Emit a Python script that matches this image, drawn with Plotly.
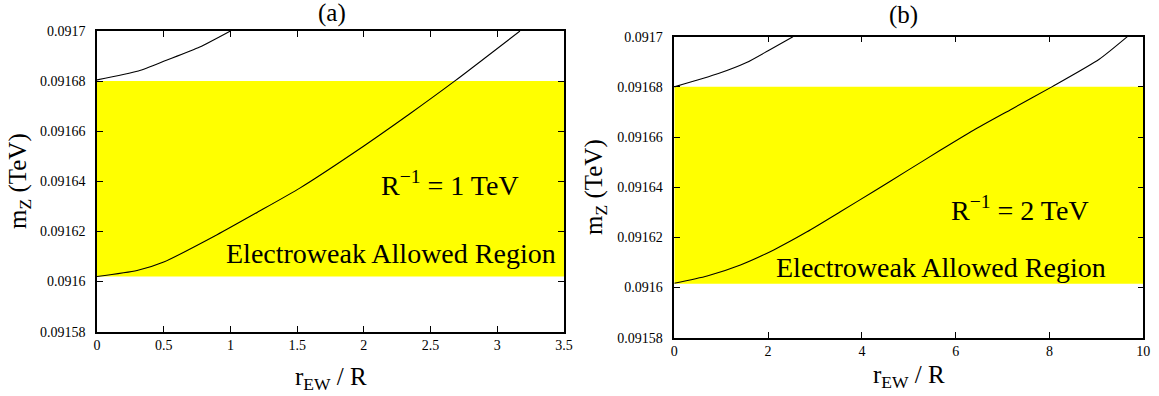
import plotly.graph_objects as go

# ---------------- data ----------------
# Panel (a): R^-1 = 1 TeV
a_lower_x = [0, 0.3, 0.5, 0.9, 1.2, 1.52, 1.9, 2.35, 2.68, 3.17]
a_lower_y = [0.091602, 0.0916044, 0.0916078, 0.0916187, 0.0916276, 0.0916373,
             0.0916505, 0.0916672, 0.09168, 0.0917]
a_upper_x = [0, 0.31, 0.52, 0.77, 1.0]
a_upper_y = [0.0916805, 0.091684, 0.0916883, 0.0916936, 0.0917]
a_band = [0.091602, 0.09168]
a_xrange = [0, 3.5]

# Panel (b): R^-1 = 2 TeV
b_lower_x = [0, 0.7, 1.41, 2.12, 2.83, 3.54, 4.25, 4.96, 5.67, 6.38, 7.2, 8.05, 9.06, 9.66]
b_lower_y = [0.0916017, 0.0916046, 0.091609, 0.091615, 0.0916222, 0.0916302, 0.0916383,
             0.0916465, 0.0916547, 0.0916627, 0.0916712, 0.09168, 0.091691, 0.0917]
b_upper_x = [0, 0.94, 1.54, 2.0, 2.53]
b_upper_y = [0.09168, 0.0916853, 0.0916897, 0.0916944, 0.0917]
b_band = [0.0916015, 0.09168]
b_xrange = [0, 10]

y_range = [0.09158, 0.0917]
y_tickvals = [0.09158, 0.0916, 0.09162, 0.09164, 0.09166, 0.09168, 0.0917]
y_ticktext = ["0.09158", "0.0916", "0.09162", "0.09164", "0.09166", "0.09168", "0.0917"]
a_xtickvals = [0, 0.5, 1, 1.5, 2, 2.5, 3, 3.5]
a_xticktext = ["0", "0.5", "1", "1.5", "2", "2.5", "3", "3.5"]
b_xtickvals = [0, 2, 4, 6, 8, 10]
b_xticktext = ["0", "2", "4", "6", "8", "10"]

titles = ["(a)", "(b)"]
labels_R = ["R<sup>\u22121</sup> = 1 TeV", "R<sup>\u22121</sup> = 2 TeV"]
label_region = "Electroweak Allowed Region"
x_title = "r<sub>EW</sub> / R"
y_title = "m<sub>Z</sub> (TeV)"

# ---------------- figure ----------------
W, H = 1159, 396
FONT = "Liberation Serif, Times New Roman, Times, serif"
YELLOW = "#FFFF00"

fig = go.Figure()


def add_panel(xa, ya, band, xr, lx, ly, ux, uy):
    fig.add_trace(go.Scatter(x=xr, y=[band[0], band[0]], mode="lines",
                             line=dict(width=0, color=YELLOW), xaxis=xa, yaxis=ya,
                             showlegend=False, hoverinfo="skip"))
    fig.add_trace(go.Scatter(x=xr, y=[band[1], band[1]], mode="lines",
                             line=dict(width=0, color=YELLOW), fill="tonexty",
                             fillcolor=YELLOW, xaxis=xa, yaxis=ya,
                             showlegend=False, hoverinfo="skip"))
    for xs, ys in ((lx, ly), (ux, uy)):
        fig.add_trace(go.Scatter(x=xs, y=ys, mode="lines",
                                 line=dict(color="black", width=1.1, shape="spline", smoothing=0.6),
                                 xaxis=xa, yaxis=ya, showlegend=False))


add_panel("x", "y", a_band, a_xrange, a_lower_x, a_lower_y, a_upper_x, a_upper_y)
add_panel("x2", "y2", b_band, b_xrange, b_lower_x, b_lower_y, b_upper_x, b_upper_y)

common_axis = dict(showline=True, linecolor="black", linewidth=1.5, mirror="ticks",
                   ticks="inside", ticklen=6, tickwidth=1, tickcolor="black",
                   showgrid=False, zeroline=False, automargin=False,
                   tickfont=dict(family=FONT, size=14, color="black"))

# plot-area boxes in window pixels: left, right, top, bottom
a_box = (97, 564, 31, 331.7)
b_box = (674.3, 1143.3, 36.7, 337.7)


def px(xp):
    return xp / W


def py(yp):
    return 1 - yp / H


def dom_x(b):
    return [px(b[0]), px(b[1])]


def dom_y(b):
    return [py(b[3]), py(b[2])]


fig.update_layout(
    template="none",
    width=W, height=H, autosize=False,
    margin=dict(l=0, r=0, t=0, b=0, pad=0),
    paper_bgcolor="white", plot_bgcolor="white",
    font=dict(family=FONT, color="black"),
    showlegend=False,
    xaxis=dict(domain=dom_x(a_box), range=a_xrange, anchor="y",
               tickmode="array", tickvals=a_xtickvals, ticktext=a_xticktext, **common_axis),
    yaxis=dict(domain=dom_y(a_box), range=y_range, anchor="x",
               tickmode="array", tickvals=y_tickvals, ticktext=y_ticktext,
               ticklabelstandoff=7, **common_axis),
    xaxis2=dict(domain=dom_x(b_box), range=b_xrange, anchor="y2",
                tickmode="array", tickvals=b_xtickvals, ticktext=b_xticktext, **common_axis),
    yaxis2=dict(domain=dom_y(b_box), range=y_range, anchor="x2",
                tickmode="array", tickvals=y_tickvals, ticktext=y_ticktext,
                ticklabelstandoff=7, **common_axis),
)

big = dict(family=FONT, size=28, color="black")
ann = []
ann.append(dict(x=2.646, y=0.0916392, xref="x", yref="y", text=labels_R[0],
                showarrow=False, font=big, xanchor="center", yanchor="middle"))
ann.append(dict(x=2.204, y=0.0916112, xref="x", yref="y", text=label_region,
                showarrow=False, font=big, xanchor="center", yanchor="middle"))
ann.append(dict(x=7.37, y=0.0916315, xref="x2", yref="y2", text=labels_R[1],
                showarrow=False, font=big, xanchor="center", yanchor="middle"))
ann.append(dict(x=5.69, y=0.091608, xref="x2", yref="y2", text=label_region,
                showarrow=False, font=big, xanchor="center", yanchor="middle"))
tfont = dict(family=FONT, size=25, color="black")
ann.append(dict(x=px(331.5), y=py(13), xref="paper", yref="paper", text=titles[0],
                showarrow=False, font=tfont, xanchor="center", yanchor="middle"))
ann.append(dict(x=px(903.5), y=py(15), xref="paper", yref="paper", text=titles[1],
                showarrow=False, font=tfont, xanchor="center", yanchor="middle"))
axt = dict(family=FONT, size=25, color="black")
ann.append(dict(x=px(330.5), y=py(378), xref="paper", yref="paper", text=x_title,
                showarrow=False, font=axt, xanchor="center", yanchor="middle"))
ann.append(dict(x=px(909), y=py(376), xref="paper", yref="paper", text=x_title,
                showarrow=False, font=axt, xanchor="center", yanchor="middle"))
ann.append(dict(x=px(19), y=py(181), xref="paper", yref="paper", text=y_title,
                showarrow=False, font=axt, textangle=-90, xanchor="center", yanchor="middle"))
ann.append(dict(x=px(595), y=py(187), xref="paper", yref="paper", text=y_title,
                showarrow=False, font=axt, textangle=-90, xanchor="center", yanchor="middle"))
fig.update_layout(annotations=ann)

# remove the default 8px page margin so the figure fills the window exactly
fig.write_html("out.html", config={"displayModeBar": False},
               post_script="document.body.style.margin='0';")
